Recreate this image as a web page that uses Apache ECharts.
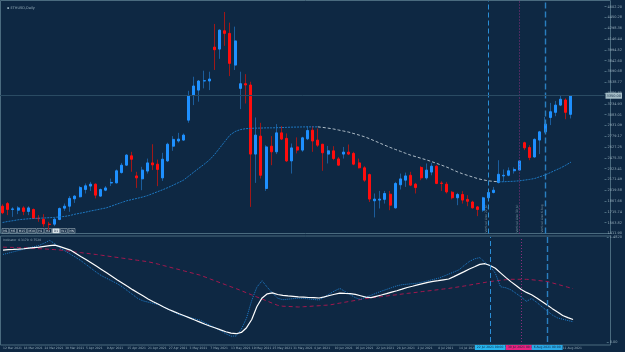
<!DOCTYPE html>
<html>
<head>
<meta charset="utf-8">
<script src="https://cdn.jsdelivr.net/npm/echarts@6/dist/echarts.min.js"></script>
<style>
html,body{margin:0;padding:0;background:#0e2843;}
#chart{width:625px;height:352px;}
</style>
</head>
<body>
<div id="chart"></div>
<script>
// ETHUSD daily bars (weekdays only)
const dates = ["12 Mar 2021","15 Mar 2021","16 Mar 2021","17 Mar 2021","18 Mar 2021","19 Mar 2021","22 Mar 2021","23 Mar 2021","24 Mar 2021","25 Mar 2021","26 Mar 2021","29 Mar 2021","30 Mar 2021","31 Mar 2021","1 Apr 2021","2 Apr 2021","5 Apr 2021","6 Apr 2021","7 Apr 2021","8 Apr 2021","9 Apr 2021","12 Apr 2021","13 Apr 2021","14 Apr 2021","15 Apr 2021","16 Apr 2021","19 Apr 2021","20 Apr 2021","21 Apr 2021","22 Apr 2021","23 Apr 2021","26 Apr 2021","27 Apr 2021","28 Apr 2021","29 Apr 2021","30 Apr 2021","3 May 2021","4 May 2021","5 May 2021","6 May 2021","7 May 2021","10 May 2021","11 May 2021","12 May 2021","13 May 2021","14 May 2021","17 May 2021","18 May 2021","19 May 2021","20 May 2021","21 May 2021","24 May 2021","25 May 2021","26 May 2021","27 May 2021","28 May 2021","31 May 2021","1 Jun 2021","2 Jun 2021","3 Jun 2021","4 Jun 2021","7 Jun 2021","8 Jun 2021","9 Jun 2021","10 Jun 2021","11 Jun 2021","14 Jun 2021","15 Jun 2021","16 Jun 2021","17 Jun 2021","18 Jun 2021","21 Jun 2021","22 Jun 2021","23 Jun 2021","24 Jun 2021","25 Jun 2021","28 Jun 2021","29 Jun 2021","30 Jun 2021","1 Jul 2021","2 Jul 2021","5 Jul 2021","6 Jul 2021","7 Jul 2021","8 Jul 2021","9 Jul 2021","12 Jul 2021","13 Jul 2021","14 Jul 2021","15 Jul 2021","16 Jul 2021","19 Jul 2021","20 Jul 2021","21 Jul 2021","22 Jul 2021","23 Jul 2021","26 Jul 2021","27 Jul 2021","28 Jul 2021","29 Jul 2021","30 Jul 2021","2 Aug 2021","3 Aug 2021","4 Aug 2021","5 Aug 2021","6 Aug 2021","9 Aug 2021","10 Aug 2021","11 Aug 2021","12 Aug 2021","13 Aug 2021"];

const opens = [1796,1833,1750,1740,1772,1722,1750,1627,1613,1544,
  1543,1609,1768,1796,1900,1928,2031,2079,2106,1938,
  2021,2122,2124,2269,2373,2505,2222,2180,2290,2405,
  2387,2194,2433,2640,2713,2726,3006,3359,3429,3557,
  3557,4034,4006,4264,4227,3781,3453,3519,3501,2529,
  2782,2045,2640,2561,2828,2750,2433,2630,2585,2744,
  2865,2726,2668,2529,2575,2461,2529,2557,2539,2405,
  2336,2241,1872,1882,1892,1965,1772,2097,2162,2231,
  2106,2341,2194,2276,2359,2122,2106,1993,1914,1961,
  1892,1855,1786,1740,1914,1989,2130,2222,2231,2294,
  2304,2689,2622,2488,2726,2842,3044,3116,3218,3290,
  3088];
const closes = [1703,1750,1758,1772,1722,1772,1623,1620,1547,1539,
  1613,1764,1796,1906,1938,2058,2083,2106,1951,2031,
  2053,2130,2294,2373,2515,2456,2194,2304,2405,2377,
  2313,2457,2668,2736,2740,2796,3350,3487,3557,3562,
  3585,3997,4273,4227,3805,4121,3519,3501,2529,2796,
  2231,2630,2561,2828,2740,2433,2616,2585,2758,2861,
  2713,2654,2547,2575,2466,2373,2557,2529,2387,2336,
  2162,1896,1896,1896,1975,1810,2116,2180,2222,2092,
  2058,2194,2304,2359,2116,2116,1997,1914,1961,1882,
  1865,1772,1750,1914,1989,2021,2245,2231,2294,2313,
  2433,2616,2480,2736,2842,2951,3125,3218,3301,3116,
  3350];
const lows = [1684,1670,1646,1684,1670,1670,1617,1576,1505,1458,
  1515,1599,1730,1717,1842,1920,1975,2011,1906,1928,
  2007,2079,2116,2255,2364,2280,2053,2021,2255,2304,
  2078,2152,2419,2575,2689,2717,2969,3218,3266,3453,
  3429,3712,3869,4052,3626,3712,3162,3241,1786,2124,
  2185,2011,2373,2529,2726,2419,2255,2539,2561,2726,
  2561,2630,2294,2397,2443,2365,2466,2515,2373,2327,
  2138,1855,1638,1764,1833,1740,1764,2031,2067,2078,
  1975,2162,2171,2231,2106,2011,1975,1892,1810,1833,
  1796,1764,1656,1717,1882,1975,2116,2138,2217,2255,
  2294,2585,2443,2480,2529,2828,2937,3062,3204,3020,
  3030];
const highs = [1823,1855,1782,1796,1796,1796,1764,1670,1684,1576,
  1631,1778,1833,1938,1951,2079,2116,2138,2116,2045,
  2079,2185,2313,2405,2529,2561,2280,2350,2466,2668,
  2452,2547,2689,2782,2828,2819,3419,3617,3571,3702,
  3688,4360,4283,4528,4378,4322,3688,3654,3547,3044,
  2969,2654,2782,2951,2923,2820,2678,2764,2772,2923,
  2923,2889,2673,2644,2640,2488,2630,2664,2561,2466,
  2359,2255,1975,2011,2011,2011,2138,2255,2269,2280,
  2124,2359,2397,2405,2373,2148,2138,2011,1983,2007,
  1951,1872,1800,1928,2011,2067,2443,2313,2341,2341,
  2443,2703,2654,2750,2856,3052,3249,3277,3350,3314,
  3359];

// moving average drawn over the price
const maValues = [1567,1581,1592,1605,1612,1619,1623,1627,1630,1634,
  1638,1645,1652,1665,1683,1697,1711,1728,1742,1757,
  1771,1796,1822,1847,1872,1889,1906,1923,1944,1972,
  2000,2028,2058,2092,2126,2162,2218,2275,2331,2385,
  2444,2521,2613,2705,2796,2846,2873,2886,2891,2894,
  2895,2898,2898,2900,2902,2905,2908,2909,2911,2912,
  2912,2912,2904,2894,2883,2868,2853,2838,2817,2796,
  2774,2746,2715,2684,2653,2623,2595,2568,2540,2513,
  2492,2470,2448,2424,2398,2372,2345,2312,2280,2253,
  2229,2206,2183,2167,2153,2145,2140,2140,2144,2147,
  2153,2163,2173,2186,2211,2236,2268,2302,2334,2373,
  2416];

// lower pane: main line (white), fast line (blue dots), slow line (red dashes)
const mainLine = [1.298,1.304,1.307,1.311,1.316,1.325,1.332,1.339,1.349,1.359,
  1.367,1.346,1.322,1.297,1.253,1.208,1.164,1.119,1.072,1.024,
  0.976,0.928,0.880,0.834,0.786,0.739,0.696,0.652,0.608,0.569,
  0.532,0.495,0.459,0.428,0.398,0.370,0.340,0.310,0.281,0.251,
  0.223,0.198,0.171,0.145,0.126,0.117,0.135,0.202,0.317,0.501,
  0.622,0.680,0.693,0.670,0.659,0.650,0.643,0.636,0.632,0.628,
  0.625,0.621,0.638,0.656,0.674,0.691,0.686,0.682,0.672,0.653,
  0.634,0.626,0.645,0.663,0.682,0.703,0.724,0.746,0.769,0.787,
  0.806,0.824,0.842,0.855,0.866,0.878,0.889,0.923,0.958,0.993,
  1.030,1.062,1.096,1.105,1.079,1.040,0.976,0.912,0.852,0.797,
  0.742,0.700,0.667,0.622,0.573,0.522,0.471,0.422,0.375,0.344,
  0.317];
const fastLine = [1.236,1.254,1.273,1.291,1.309,1.328,1.346,1.364,1.397,1.435,
  1.387,1.329,1.284,1.240,1.197,1.150,1.095,1.040,0.985,0.936,
  0.899,0.862,0.825,0.780,0.725,0.670,0.615,0.581,0.563,0.545,
  0.527,0.495,0.459,0.422,0.385,0.364,0.346,0.327,0.309,0.272,
  0.236,0.199,0.161,0.117,0.083,0.085,0.181,0.339,0.588,0.776,
  0.864,0.772,0.691,0.618,0.597,0.605,0.612,0.619,0.615,0.608,
  0.600,0.593,0.635,0.679,0.722,0.756,0.713,0.669,0.625,0.601,
  0.636,0.659,0.689,0.717,0.742,0.768,0.793,0.809,0.816,0.823,
  0.831,0.847,0.864,0.882,0.900,0.928,0.958,0.988,1.019,1.081,
  1.137,1.174,1.191,1.125,1.068,0.971,0.780,0.766,0.737,0.687,
  0.634,0.574,0.614,0.559,0.497,0.439,0.381,0.340,0.322,0.303,
  0.286];
const slowLine = [1.339,1.336,1.335,1.332,1.329,1.326,1.322,1.318,1.314,1.308,
  1.304,1.298,1.290,1.280,1.271,1.261,1.253,1.243,1.235,1.225,
  1.215,1.204,1.194,1.184,1.174,1.163,1.153,1.143,1.133,1.116,
  1.098,1.078,1.060,1.040,1.022,1.002,0.983,0.964,0.944,0.917,
  0.889,0.862,0.834,0.807,0.779,0.753,0.724,0.694,0.665,0.635,
  0.607,0.577,0.547,0.518,0.505,0.502,0.498,0.494,0.498,0.502,
  0.508,0.512,0.518,0.522,0.536,0.549,0.562,0.574,0.587,0.600,
  0.612,0.624,0.632,0.641,0.649,0.659,0.667,0.677,0.686,0.694,
  0.703,0.713,0.721,0.729,0.739,0.748,0.756,0.768,0.779,0.790,
  0.803,0.816,0.828,0.841,0.854,0.862,0.871,0.879,0.885,0.885,
  0.885,0.885,0.879,0.871,0.862,0.854,0.834,0.814,0.794,0.773,
  0.752];

// price axis: lowest label, label step, top edge of the pane
const priceMin = 1411.90, priceStep = 151.919, priceTop = 4682.5;
const indMax = 1.4820;

// vertical line objects
const vLines = [
  {idx: 94,  color: '#2b8ed6', dash: [5, 3], width: 1,   box: '#27b5ee', note: 'Vertical Line 22 Jul'},
  {idx: 100, color: '#8a2f7e', dash: [1, 2], width: 1,   box: '#e8237f', note: 'Vertical Line 30 Jul'},
  {idx: 105, color: '#2a7fc0', dash: [6, 3], width: 1.4, box: '#2aa9e6', note: 'Vertical Line 6 Aug'}
];

const tfButtons = ['M1', 'M5', 'M15', 'M30', 'H1', 'H4', 'D1', 'W1', 'MN'];
const activeTf = 'D1';

// ---------------------------------------------------------------
const categories = dates.concat(['', '', '', '', '', '']); // chart shift on the right
const txt = '#93aab8';
const frame = '#4a6b7f';

const wickData = opens.map((o, i) => [o, closes[i], lows[i], highs[i]]);
const bodyData = opens.map((o, i) => [o, closes[i], Math.min(o, closes[i]), Math.max(o, closes[i])]);

const maUp = maValues.map(() => null);
const maDown = maValues.map(() => null);
for (let i = 1; i < maValues.length; i++) {
  const t = maValues[i] >= maValues[i - 1] ? maUp : maDown;
  t[i - 1] = maValues[i - 1];
  t[i] = maValues[i];
}

const lastClose = closes[closes.length - 1];

const mainMarks = vLines.map(v => ({
  xAxis: dates[v.idx],
  lineStyle: {color: v.color, type: v.dash, width: v.width},
  label: {show: true, position: 'insideStartTop', formatter: v.note, fontSize: 3, color: '#7f97a6', distance: 1}
}));
mainMarks.push({
  yAxis: lastClose,
  lineStyle: {color: '#2a4b63', type: 'solid', width: 1},
  label: {show: true, position: 'end', distance: 1, formatter: lastClose.toFixed(2),
    backgroundColor: '#a4bcc6', color: '#0e2843', fontSize: 3.5, padding: [1, 1]}
});

const lowerMarks = [];
vLines.forEach(v => {
  lowerMarks.push({
    xAxis: dates[v.idx],
    lineStyle: {color: v.color, type: v.dash, width: v.width},
    label: {show: true, position: 'start', distance: 3, formatter: dates[v.idx] + ' 00:00',
      backgroundColor: v.box, color: '#0e2843', fontSize: 3, padding: [1, 2]}
  });
  lowerMarks.push({
    xAxis: dates[v.idx],
    lineStyle: {opacity: 0, width: 0},
    label: {show: true, position: 'insideStartTop', formatter: v.note, fontSize: 3, color: '#7f97a6', distance: 1}
  });
});

// timeframe buttons bottom-left of the price pane
const btnEls = [];
let bx = 2;
tfButtons.forEach(b => {
  const w = 3 + b.length * 1.9;
  const on = b === activeTf;
  btnEls.push({type: 'rect', shape: {x: bx, y: 228.5, width: w, height: 4.5},
    style: {fill: on ? '#dfe7ec' : '#0e2843', stroke: '#b9c7cf', lineWidth: 0.5}});
  btnEls.push({type: 'text', x: bx + w / 2, y: 230.8,
    style: {text: b, fill: on ? '#0e2843' : '#dfe7ec', fontSize: 3, align: 'center', verticalAlign: 'middle', fontFamily: 'DejaVu Sans'}});
  bx += w + 1;
});

const option = {
  backgroundColor: '#0e2843',
  animation: false,
  textStyle: {fontFamily: 'DejaVu Sans'},
  title: {text: '\u25AA ETHUSD,Daily', left: 2, top: 1.5, textStyle: {fontSize: 3.5, color: txt, fontWeight: 'normal'}},
  grid: [
    {left: 0, top: 1, width: 610, height: 232.5},
    {left: 0, top: 237, width: 610, height: 105}
  ],
  xAxis: [
    {type: 'category', gridIndex: 0, data: categories, show: false},
    {type: 'category', gridIndex: 1, data: categories,
      axisLine: {show: false}, axisTick: {show: false},
      axisLabel: {interval: 3, align: 'left', fontSize: 3, color: txt, margin: 5}}
  ],
  yAxis: [
    {type: 'value', gridIndex: 0, position: 'right', min: priceMin, max: priceTop,
      interval: priceStep,
      splitLine: {show: false}, axisLine: {show: false},
      axisTick: {show: true, length: 2, lineStyle: {color: frame}},
      axisLabel: {fontSize: 3.5, color: txt, margin: 3, showMaxLabel: false, formatter: v => v.toFixed(2)}},
    {type: 'value', gridIndex: 1, position: 'right', min: 0, max: indMax, interval: indMax,
      splitLine: {show: false}, axisLine: {show: false},
      axisTick: {show: true, length: 2, lineStyle: {color: frame}},
      axisLabel: {fontSize: 3.5, color: txt, margin: 3, formatter: v => v === 0 ? '0.00' : v.toFixed(4)}}
  ],
  graphic: [
    {type: 'rect', z: -1, shape: {x: 0.5, y: 0.5, width: 610, height: 233}, style: {fill: 'none', stroke: frame, lineWidth: 1}},
    {type: 'rect', z: -1, shape: {x: 0.5, y: 236, width: 610, height: 109}, style: {fill: 'none', stroke: frame, lineWidth: 1}},
    {type: 'text', x: 3, y: 238.5, style: {text: 'Indicator  ' + mainLine[mainLine.length - 1].toFixed(4) + '  ' + slowLine[slowLine.length - 1].toFixed(4), fill: txt, fontSize: 3, fontFamily: 'DejaVu Sans'}},
    {type: 'group', children: btnEls}
  ],
  series: [
    {name: 'wicks', type: 'candlestick', xAxisIndex: 0, yAxisIndex: 0, data: wickData, barWidth: 1,
      itemStyle: {color: '#1b5d9c', color0: '#a01818', borderColor: '#1b5d9c', borderColor0: '#a01818', borderWidth: 1}},
    {name: 'ETHUSD', type: 'candlestick', xAxisIndex: 0, yAxisIndex: 0, data: bodyData, barWidth: 2.6,
      itemStyle: {color: '#1e90ff', color0: '#ff0d0d', borderColor: '#1e90ff', borderColor0: '#ff0d0d', borderWidth: 1},
      markLine: {silent: true, symbol: ['none', 'none'], animation: false, data: mainMarks}},
    {name: 'MA up', type: 'line', xAxisIndex: 0, yAxisIndex: 0, data: maUp, showSymbol: false,
      lineStyle: {color: '#1d78c2', width: 1, type: [2, 1]}},
    {name: 'MA down', type: 'line', xAxisIndex: 0, yAxisIndex: 0, data: maDown, showSymbol: false,
      lineStyle: {color: '#aebcc7', width: 1, type: [3, 2]}},
    {name: 'slow', type: 'line', xAxisIndex: 1, yAxisIndex: 1, data: slowLine, showSymbol: false,
      lineStyle: {color: '#a3184e', width: 1, type: [4, 3]},
      markLine: {silent: true, symbol: ['none', 'none'], animation: false, data: lowerMarks}},
    {name: 'fast', type: 'line', xAxisIndex: 1, yAxisIndex: 1, data: fastLine, showSymbol: false,
      lineStyle: {color: '#1f7fcf', width: 1, type: [1, 1]}},
    {name: 'main', type: 'line', xAxisIndex: 1, yAxisIndex: 1, data: mainLine, showSymbol: false,
      lineStyle: {color: '#ffffff', width: 1.2}}
  ]
};

const chart = echarts.init(document.getElementById('chart'));
chart.setOption(option);
window.addEventListener('resize', function () { chart.resize(); });
</script>
</body>
</html>
